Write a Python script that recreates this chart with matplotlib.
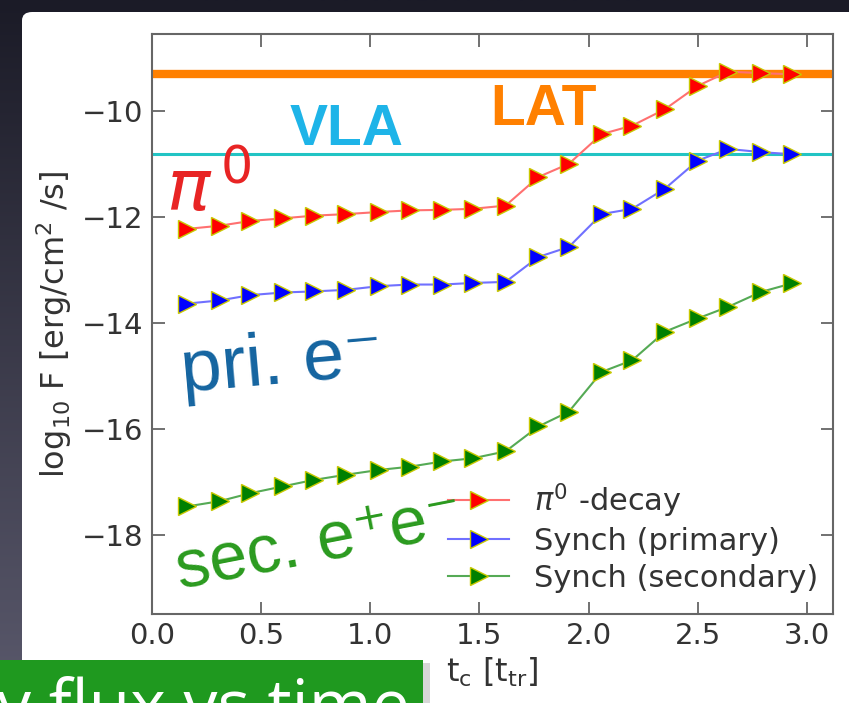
import numpy as np
import matplotlib.pyplot as plt
from matplotlib.patches import FancyBboxPatch, Rectangle
from matplotlib.colors import LinearSegmentedColormap

# time in units of t_tr
t_c = [0.16, 0.31, 0.45, 0.60, 0.74, 0.89, 1.04, 1.18, 1.33, 1.47,
       1.62, 1.77, 1.91, 2.06, 2.20, 2.35, 2.50, 2.64, 2.79, 2.93]

# log10 flux [erg/cm^2/s]
pi0_decay = [-12.23, -12.17, -12.08, -12.03, -11.98, -11.95, -11.91, -11.88, -11.87, -11.85,
             -11.79, -11.25, -11.00, -10.44, -10.28, -9.97, -9.53, -9.26, -9.29, -9.31]
synch_primary = [-13.64, -13.58, -13.48, -13.43, -13.41, -13.38, -13.31, -13.28, -13.28, -13.25,
                 -13.23, -12.76, -12.57, -11.95, -11.85, -11.47, -10.94, -10.72, -10.78, -10.82]
synch_secondary = [-17.47, -17.37, -17.22, -17.09, -16.97, -16.87, -16.78, -16.72, -16.62, -16.56,
                   -16.43, -15.96, -15.68, -14.93, -14.71, -14.17, -13.92, -13.70, -13.42, -13.26]

lat_level = -9.30
vla_level = -10.81

W, H = 849, 703
fig = plt.figure(figsize=(W / 100, H / 100), dpi=100)

# slide background (dark gradient) + white panel
bg = fig.add_axes([0, 0, 1, 1], zorder=-10)
grad = np.linspace(0, 1, 256).reshape(-1, 1)
cm = LinearSegmentedColormap.from_list('slide', ['#5a596c', '#1b1b27'])
bg.imshow(grad, cmap=cm, aspect='auto', extent=[0, 1, 0, 1], origin='lower')
bg.add_patch(FancyBboxPatch((22 / W, -0.05), 1.0, 1 - 12 / H + 0.05,
                            boxstyle='round,pad=0,rounding_size=0.012',
                            fc='white', ec='none', transform=bg.transAxes))
# green caption box at the bottom (cut by the frame edge, as on the slide)
bg.add_patch(Rectangle((4 / W, -0.01), 426 / W, 47 / H, fc='#bdbdbd', ec='none', alpha=0.6))
bg.add_patch(Rectangle((0, -0.01), 423 / W, 50 / H, fc='#1f991f', ec='none'))
bg.set_xlim(0, 1)
bg.set_ylim(0, 1)
bg.axis('off')
bg.text(410 / W, 1 - 728 / H, 'y flux vs time', color='white', fontsize=49,
        family='Open Sans', ha='right', va='baseline')

ax = fig.add_axes([152 / W, 1 - 614 / H, 681 / W, 580 / H])
ax.set_facecolor('none')

ax.axhline(lat_level, color='#ff8000', lw=6, zorder=1)
ax.axhline(vla_level, color='#22c4c4', lw=2.2, zorder=1)

mk = dict(marker='>', markersize=12.5, markeredgecolor='#c8c800', markeredgewidth=1.0, lw=1.5)
ax.plot(t_c, pi0_decay, color='#ff7070', markerfacecolor='red', label=r'$\pi^0$ -decay', **mk)
ax.plot(t_c, synch_primary, color='#7070ff', markerfacecolor='blue', label='Synch (primary)', **mk)
ax.plot(t_c, synch_secondary, color='#55aa55', markerfacecolor='green', label='Synch (secondary)', **mk)

ax.set_xlim(0, 3.12)
ax.set_ylim(-19.5, -8.55)
ax.set_xticks([0.0, 0.5, 1.0, 1.5, 2.0, 2.5, 3.0])
ax.set_yticks([-18, -16, -14, -12, -10])
ax.tick_params(direction='in', length=9, width=1.3, color='#666666', labelsize=21,
               labelcolor='#333333', top=True, right=True, pad=6)
for s in ax.spines.values():
    s.set_color('#666666')
    s.set_linewidth(1.5)
ax.set_xlabel(r'$\mathregular{t_c\ [t_{tr}]}$', fontsize=23, color='#333333', labelpad=4)
ax.set_ylabel(r'$\mathregular{log_{10}}$ F [erg/cm$^2$ /s]', fontsize=23, color='#333333', labelpad=6)

leg = ax.legend(loc='upper left', bbox_to_anchor=(448 / W, 1 - 481 / H), bbox_transform=fig.transFigure,
                frameon=False, fontsize=22, handlelength=2.0, handletextpad=0.8,
                labelspacing=0.25, borderpad=0, borderaxespad=0)
for t in leg.get_texts():
    t.set_color('#333333')

# slide annotations
fig.text(347 / W, 1 - 145 / H, 'VLA', color='#1eb4e8', fontsize=41, fontweight='bold',
         family='Liberation Sans', ha='center', va='baseline')
fig.text(544 / W, 1 - 125 / H, 'LAT', color='#ff8000', fontsize=41, fontweight='bold',
         family='Liberation Sans', ha='center', va='baseline')
fig.text(166 / W, 1 - 212 / H, r'$\pi^{\,0}$', color='#e82424', fontsize=52,
         ha='left', va='baseline')
fig.text(178 / W, 1 - 392 / H, 'pri. e\u207b', color='#1464a0', fontsize=53,
         family=['Liberation Sans', 'DejaVu Sans'], ha='left', va='baseline', rotation=5)
fig.text(170 / W, 1 - 588 / H, 'sec. e\u207ae\u207b', color='#2a9a1e', fontsize=49,
         family=['Liberation Sans', 'DejaVu Sans'], ha='left', va='baseline', rotation=11)

fig.savefig('out.png', dpi=100, facecolor=fig.get_facecolor())
